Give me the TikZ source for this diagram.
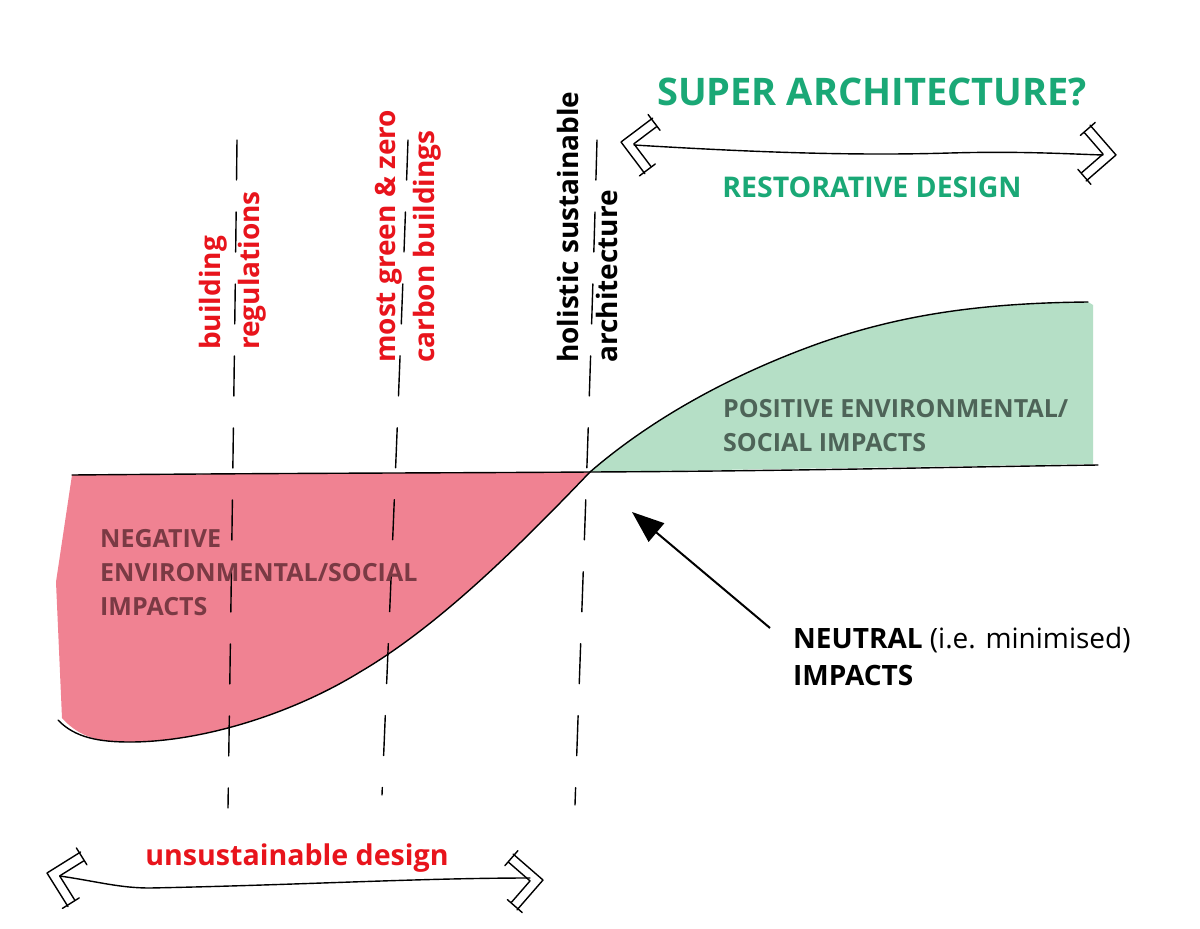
\documentclass[tikz,border=0pt]{standalone}
\usepackage{fontspec}
\setmainfont{Open Sans}
\usetikzlibrary{arrows.meta,calc}
\definecolor{redtxt}{RGB}{232,20,28}
\definecolor{greentxt}{RGB}{26,168,118}
\definecolor{redfill}{RGB}{240,130,146}
\definecolor{greenfill}{RGB}{181,223,198}
\definecolor{negtxt}{RGB}{122,58,68}
\definecolor{postxt}{RGB}{78,100,88}
\tikzset{
  pen/.style={line width=1.4pt, line cap=round, line join=round},
  guide/.style={pen, dash pattern=on 40pt off 32pt},
  vlabel/.style={rotate=90, anchor=west, align=left, font=\fontsize{28}{39}\selectfont\bfseries, inner sep=0pt},
  areatxt/.style={anchor=north west, align=left, font=\fontsize{25}{34}\selectfont\bfseries, inner sep=0pt},
  hhead/.pic={
    \draw[pen] (28,-28) -- (0,0) -- (28,28);
    \draw[pen] (33,-20) -- (13,0) -- (33,20);
    \draw[pen] (23,-31) -- (37,-17);
    \draw[pen] (23,31) -- (37,17);
  }
}
\begin{document}
\begin{tikzpicture}[x=1pt,y=-1pt]
\useasboundingbox (0,0) rectangle (1200,929);
\fill[white] (0,0) rectangle (1200,929);

% key points
\coordinate (zero) at (590,472);
\coordinate (axL) at (72,475);
\coordinate (axR) at (1098,465);

% fills
\fill[redfill] (axL) -- (zero)
  .. controls (520,545) and (440,625) .. (360,672)
  .. controls (290,715) and (200,742) .. (130,742)
  .. controls (100,742) and (80,738) .. (62,718)
  -- (56,582) -- cycle;
\fill[greenfill] (zero)
  .. controls (650,420) and (730,375) .. (820,343)
  .. controls (900,315) and (980,303) .. (1088,302)
  -- (1093,305) -- (1093,464) -- cycle;

% curves
\draw[pen] (zero)
  .. controls (520,545) and (440,625) .. (360,672)
  .. controls (290,715) and (200,742) .. (130,742)
  .. controls (100,742) and (75,738) .. (58,720);
\draw[pen] (zero)
  .. controls (650,420) and (730,375) .. (820,343)
  .. controls (900,315) and (980,303) .. (1088,302);
% axis
\draw[pen] (axL) .. controls (300,473) and (450,473) .. (zero)
  .. controls (800,471) and (950,467) .. (axR);

% dashed guides
\draw[guide] (237,140) .. controls (234,400) and (231,600) .. (228,808);
\draw[guide] (408,140) .. controls (399,400) and (390,600) .. (382,795);
\draw[guide] (597,140) .. controls (590,400) and (582,600) .. (575,805);

% vertical labels
\node[vlabel, text=redtxt] (breg) at (233,350) {building\\regulations};
\node[vlabel, text=redtxt] (green) at (408,363) {most green \& zero\\carbon buildings};
\node[vlabel, text=black] (holistic) at (587,363) {holistic sustainable\\architecture};

% area labels
\node[areatxt, text=negtxt] (neg) at (100,529) {NEGATIVE\\ENVIRONMENTAL/SOCIAL\\IMPACTS};
\node[areatxt, text=postxt] (pos) at (723,399) {POSITIVE ENVIRONMENTAL/\\SOCIAL IMPACTS};

% neutral
\node[anchor=north west, align=left, inner sep=0pt, font=\fontsize{28}{37}\selectfont] (neutral) at (793,627)
  {\textbf{NEUTRAL} (i.e. minimised)\\\textbf{IMPACTS}};
\coordinate (ntail) at (770,628);
\draw[line width=2pt, -{Triangle[length=32pt,width=24pt]}] (ntail) -- (632,512);

% top: restorative
\node[text=greentxt, font=\fontsize{38}{42}\selectfont\bfseries, inner sep=0pt] (super) at (872,92) {SUPER ARCHITECTURE?};
\node[text=greentxt, font=\fontsize{28.5}{32}\selectfont\bfseries, inner sep=0pt] (restor) at (872,187) {RESTORATIVE DESIGN};
\coordinate (tL) at (621,142);
\coordinate (tR) at (1116,155);
\pic[rotate=-8] at (tL) {hhead};
\pic[rotate=176] at (tR) {hhead};
\draw[pen] ($(tL)+(13,3)$) .. controls (750,152) and (850,156) .. (950,153)
  .. controls (1020,151) and (1070,154) .. ($(tR)+(-13,0)$);

% bottom: unsustainable
\node[text=redtxt, font=\fontsize{28.6}{33}\selectfont\bfseries, inner sep=0pt] (unsus) at (297,858) {unsustainable design};
\coordinate (bL) at (47,873);
\coordinate (bR) at (543,880);
\pic[rotate=-13] at (bL) {hhead};
\pic[rotate=184] at (bR) {hhead};
\draw[pen] ($(bL)+(13,3)$) .. controls (100,882) and (120,888) .. (150,888)
  .. controls (300,885) and (420,878) .. ($(bR)+(-13,-2)$);
\end{tikzpicture}
\end{document}
